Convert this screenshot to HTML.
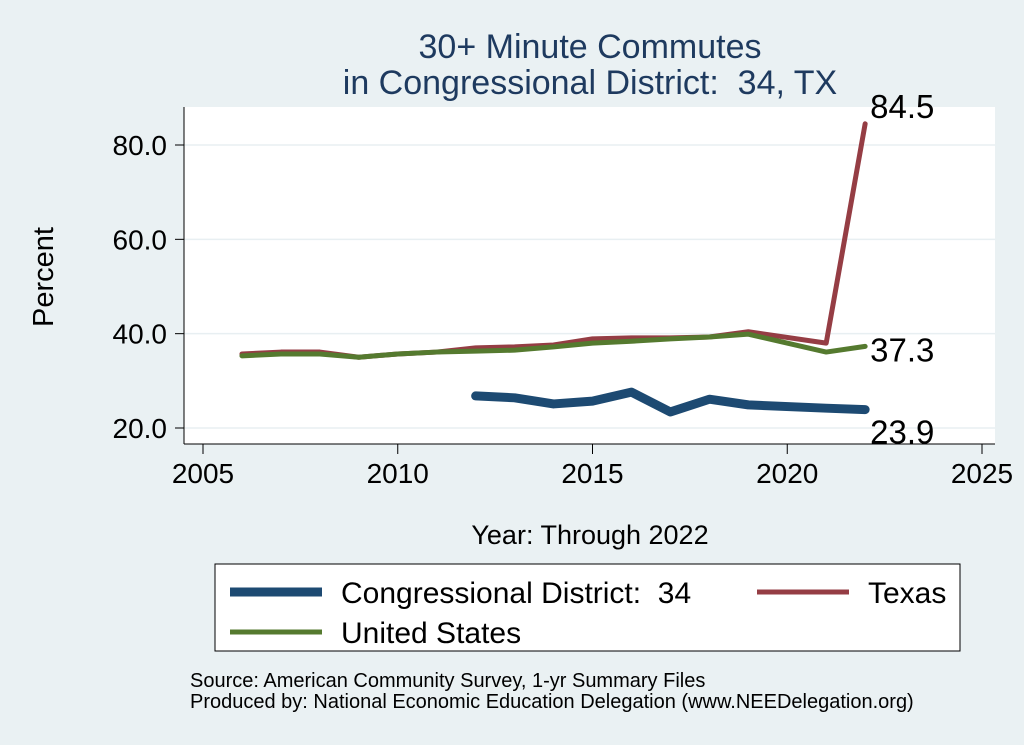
<!DOCTYPE html>
<html><head><meta charset="utf-8"><style>
body{margin:0;background:#eaf1f3;}
svg{display:block;font-family:"Liberation Sans",Arial,sans-serif;}
text{white-space:pre;}
</style></head><body>
<svg id="chart" width="1024" height="745" xmlns="http://www.w3.org/2000/svg" xml:space="preserve">
<rect x="0" y="0" width="1024" height="745" fill="#eaf1f3"/>
<text x="590" y="58" font-size="34" fill="#1e3a5f" text-anchor="middle">30+ Minute Commutes</text>
<text x="590" y="94" font-size="34" fill="#1e3a5f" text-anchor="middle">in Congressional District:  34, TX</text>
<rect x="184" y="107" width="811" height="337" fill="#ffffff"/>
<g id="grid"></g>
<g id="axes"></g>
<g id="series"></g>
<text transform="translate(53,277) rotate(-90)" font-size="29" text-anchor="middle" fill="#000">Percent</text>
<text x="590" y="544" font-size="27" text-anchor="middle" fill="#000">Year: Through 2022</text>
<g>
<rect x="215" y="564" width="745" height="87" fill="#fff" stroke="#000" stroke-width="1"/>
<line x1="230" y1="592" x2="322" y2="592" stroke="#1d4a72" stroke-width="9"/>
<text x="341" y="603" font-size="30">Congressional District:  34</text>
<line x1="757" y1="592" x2="849" y2="592" stroke="#953d44" stroke-width="5"/>
<text x="868" y="603" font-size="30">Texas</text>
<line x1="230" y1="632" x2="322" y2="632" stroke="#557a2f" stroke-width="5"/>
<text x="341" y="643" font-size="30">United States</text>
</g>
<text x="190" y="687" font-size="20">Source: American Community Survey, 1-yr Summary Files</text>
<text x="190" y="708" font-size="20">Produced by: National Economic Education Delegation (www.NEEDelegation.org)</text>
</svg>
<script>
const years = [2006,2007,2008,2009,2010,2011,2012,2013,2014,2015,2016,2017,2018,2019,2021,2022];
const texasValues = [35.7,36.1,36.1,35.0,35.7,36.1,37.0,37.2,37.6,38.9,39.1,39.1,39.3,40.4,38.0,84.5];
const usValues = [35.3,35.7,35.7,35.0,35.7,36.1,36.3,36.5,37.2,38.0,38.4,38.9,39.3,39.9,36.1,37.3];
const districtYears = [2012,2013,2014,2015,2016,2017,2018,2019,2021,2022];
const districtValues = [26.8,26.4,25.1,25.7,27.6,23.4,26.1,24.9,24.2,23.9];
const xTicks = [2005,2010,2015,2020,2025];
const yTicks = [20,40,60,80];
const yTickLabels = ["20.0","40.0","60.0","80.0"];

const NS = "http://www.w3.org/2000/svg";
const xs = v => 203 + (v - 2005) * 38.95;
const ys = v => 428 - (v - 20) * (283 / 60);
function mk(tag, attrs, parent){const e=document.createElementNS(NS,tag);for(const k in attrs)e.setAttribute(k,attrs[k]);parent.appendChild(e);return e;}
const grid=document.getElementById('grid'), axes=document.getElementById('axes'), ser=document.getElementById('series');

yTicks.forEach((t,i)=>{
  const g=mk('line',{x1:184,x2:995,y1:ys(t),y2:ys(t),stroke:'#e8eff2','stroke-width':1.5},grid);
  
  
  const tk=mk('line',{x1:175,x2:184,y1:ys(t),y2:ys(t),stroke:'#000','stroke-width':1},axes);
  
  
  const l=mk('text',{x:167,y:ys(t)+10,'font-size':28,'text-anchor':'end'},axes);
  l.textContent=yTickLabels[i];
  
  
});
xTicks.forEach(t=>{
  const tk=mk('line',{x1:xs(t),x2:xs(t),y1:444,y2:454,stroke:'#000','stroke-width':1},axes);
  
  
  const l=mk('text',{x:xs(t),y:483,'font-size':28,'text-anchor':'middle'},axes);
  l.textContent=t;
  
  
});
const ya=mk('line',{x1:184,x2:184,y1:107,y2:444,stroke:'#000','stroke-width':1},axes);


const xa=mk('line',{x1:184,x2:995,y1:444,y2:444,stroke:'#000','stroke-width':1},axes);



function line(xv,yv,color,w){
  const pts=xv.map((x,i)=>xs(x)+','+ys(yv[i])).join(' ');
  return mk('polyline',{points:pts,fill:'none',stroke:color,'stroke-width':w,'stroke-linejoin':'round','stroke-linecap':'round'},ser);
}
const tx=line(years,texasValues,'#953d44',5);


const us=line(years,usValues,'#557a2f',5);


const cd=line(districtYears,districtValues,'#1d4a72',9);



function endLabel(x,v,dy,name){
  const t=mk('text',{x:xs(x)+5,y:ys(v)+dy,'font-size':33},ser);
  t.textContent=v.toFixed(1);
  
  
}
endLabel(years[years.length-1],texasValues[texasValues.length-1],-6,'texas-end-label');
endLabel(years[years.length-1],usValues[usValues.length-1],15,'us-end-label');
endLabel(districtYears[districtYears.length-1],districtValues[districtValues.length-1],34,'district-end-label');
</script>
</body></html>
